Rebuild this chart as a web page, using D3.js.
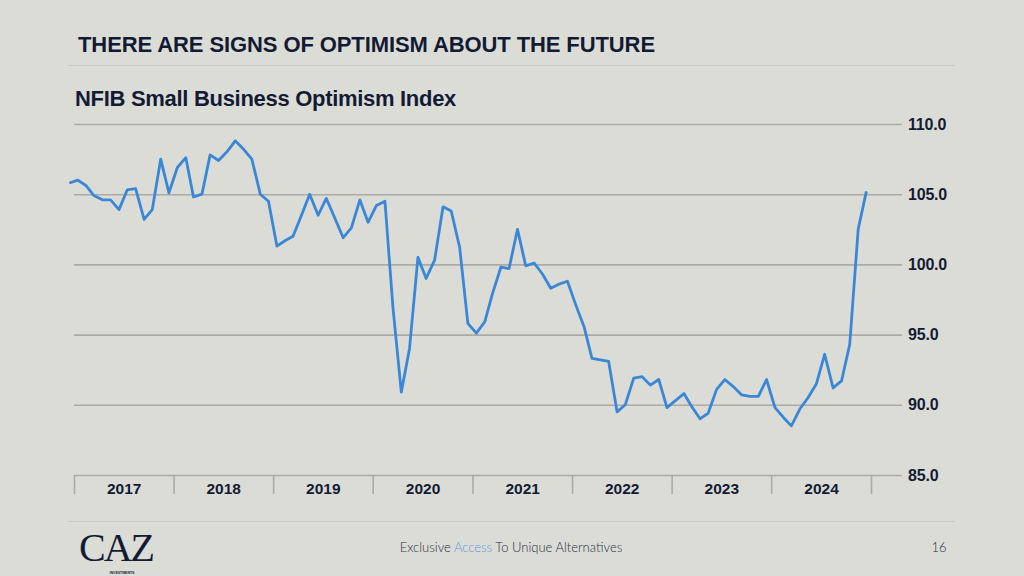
<!DOCTYPE html>
<html><head><meta charset="utf-8">
<script src="https://cdn.jsdelivr.net/npm/d3@7"></script>
<style>
html,body{margin:0;padding:0;background:#dcdcd7;}
svg{display:block;}
</style></head>
<body>
<svg id="chart" width="1024" height="576"></svg>
<script>
const title = "THERE ARE SIGNS OF OPTIMISM ABOUT THE FUTURE";
const subtitle = "NFIB Small Business Optimism Index";
const startYear = 2016, startMonth = 11; // Dec 2016
const values = [
  105.8,
  106.0,105.6,104.9,104.6,104.6,103.9,105.3,105.4,103.2,103.9,107.5,105.1,
  106.9,107.6,104.8,105.0,107.8,107.4,108.0,108.8,108.2,107.5,105.0,104.5,
  101.3,101.7,102.0,103.5,105.0,103.5,104.7,103.3,101.9,102.6,104.6,103.0,
  104.2,104.5,97.0,90.9,94.0,100.5,99.0,100.3,104.1,103.8,101.2,95.8,
  95.1,95.9,97.9,99.8,99.7,102.5,99.9,100.1,99.3,98.3,98.6,98.8,
  97.1,95.5,93.3,93.2,93.1,89.5,90.0,91.9,92.0,91.4,91.8,89.8,
  90.3,90.8,89.9,89.0,89.4,91.1,91.8,91.3,90.7,90.6,90.6,91.8,
  89.8,89.1,88.5,89.7,90.5,91.5,93.6,91.2,91.7,94.3,102.5,105.2
];
const years = [2017,2018,2019,2020,2021,2022,2023,2024];
const yTicks = [85,90,95,100,105,110];
const footerParts = ["Exclusive ","Access"," To Unique Alternatives"];
const pageNumber = "16";

const data = values.map((v,i)=>({date:new Date(startYear, startMonth+i, 15), value:v}));

const navy = "#131b34", grid = "#abaaa6", blue = "#3a87d7";
const svg = d3.select("#chart");

svg.append("text").attr("x",78).attr("y",52)
  .attr("font-family","Liberation Sans, Arial, sans-serif").attr("font-weight",700)
  .attr("font-size",22).attr("letter-spacing",-0.1).attr("fill",navy).text(title);
svg.append("line").attr("x1",68).attr("x2",955).attr("y1",65.5).attr("y2",65.5)
  .attr("stroke","#c9c9c4").attr("stroke-width",1);
svg.append("text").attr("x",75).attr("y",106)
  .attr("font-family","Liberation Sans, Arial, sans-serif").attr("font-weight",700)
  .attr("font-size",22).attr("letter-spacing",-0.3).attr("fill",navy).text(subtitle);

const x = d3.scaleTime().domain([new Date(2017,0,1), new Date(2025,0,1)]).range([74,871]);
const y = d3.scaleLinear().domain([85,110]).range([475,124]);

const gy = svg.append("g").attr("transform","translate(74,0)")
  .call(d3.axisRight(y).tickValues(yTicks).tickSize(828).tickPadding(6).tickFormat(d3.format(".1f")));
gy.select(".domain").remove();
gy.selectAll(".tick line").attr("stroke",grid).attr("stroke-width",1.6);
gy.selectAll(".tick text").attr("font-family","Liberation Sans, Arial, sans-serif")
  .attr("font-weight",700).attr("font-size",16).attr("fill",navy).attr("letter-spacing",-0.2);

const gx = svg.append("g").attr("transform","translate(0,475)")
  .call(d3.axisBottom(x).tickValues(years.map(yr=>new Date(yr,0,1)).concat([new Date(2025,0,1)])).tickSize(19).tickFormat(""));
gx.select(".domain").remove();
gx.selectAll(".tick line").attr("stroke",grid).attr("stroke-width",1.6);

const gl = svg.append("g").attr("transform","translate(0,475)")
  .call(d3.axisBottom(x).tickValues(years.map(yr=>new Date(yr,6,2))).tickSize(0).tickPadding(8).tickFormat(d3.timeFormat("%Y")));
gl.select(".domain").remove();
gl.selectAll(".tick text").attr("font-family","Liberation Sans, Arial, sans-serif")
  .attr("font-weight",700).attr("font-size",15.5).attr("fill",navy);

svg.append("path").datum(data)
  .attr("fill","none").attr("stroke",blue).attr("stroke-width",2.8).attr("stroke-linejoin","round")
  .attr("d", d3.line().x(d=>x(d.date)).y(d=>y(d.value)));

// footer
svg.append("line").attr("x1",68).attr("x2",955).attr("y1",521.5).attr("y2",521.5)
  .attr("stroke","#c9c9c4").attr("stroke-width",1);
svg.append("text").attr("x",79).attr("y",561)
  .attr("font-family","Liberation Serif, Times New Roman, serif").attr("font-size",40)
  .attr("letter-spacing",-2).attr("fill",navy).text("CAZ");
svg.append("text").attr("x",122).attr("y",574)
  .attr("font-family","Liberation Sans, Arial, sans-serif").attr("font-size",3.5).attr("font-weight",700)
  .attr("fill",navy).attr("text-anchor","middle").text("INVESTMENTS");
const ft = svg.append("text").attr("x",511).attr("y",552).attr("text-anchor","middle")
  .attr("font-family","Lato, Open Sans, sans-serif").attr("font-weight",300).attr("font-size",13)
  .attr("fill","#2a2f45");
ft.selectAll("tspan").data(footerParts).join("tspan")
  .attr("fill",(d,i)=>i===1?"#5b9bd8":"#2a2f45").text(d=>d);
svg.append("text").attr("x",939).attr("y",552).attr("text-anchor","middle")
  .attr("font-family","Lato, Open Sans, sans-serif").attr("font-weight",300).attr("font-size",13)
  .attr("fill","#2a2f45").text(pageNumber);
</script>
</body></html>
